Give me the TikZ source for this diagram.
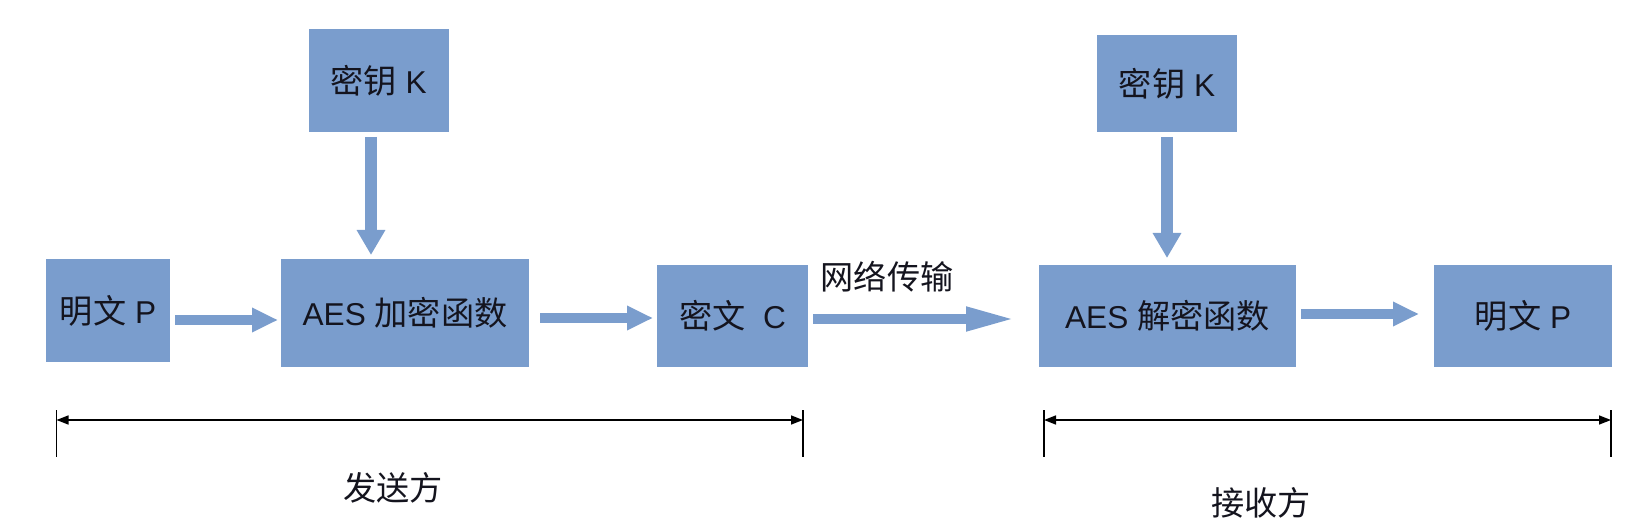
\documentclass[tikz,border=0pt]{standalone}
\usepackage{fontspec}
\setmainfont{Liberation Sans}
\newfontfamily\cjk[Scale=1.05]{Noto Sans CJK SC}
\usetikzlibrary{arrows.meta}
\definecolor{boxblue}{RGB}{122,157,205}
\definecolor{txt}{RGB}{20,20,30}
\begin{document}
\begin{tikzpicture}[x=0.5pt,y=-0.5pt,
  every node/.style={font=\fontsize{15.8}{18}\selectfont, text=txt},
  bbox/.style={fill=boxblue, inner sep=0pt, outer sep=0pt},
  barrow/.style={draw=boxblue, line width=5pt, -{Triangle[length=13pt,width=11.5pt]}},
  karrow/.style={draw=boxblue, line width=6pt, -{Triangle[length=12.5pt,width=13.5pt]}},
  netarrow/.style={draw=boxblue, line width=5pt, -{Triangle[length=25pt,width=11pt]}},
  dimline/.style={draw=black, line width=0.75pt, {Triangle[length=6pt,width=4.5pt]}-{Triangle[length=6pt,width=4.5pt]}},
  tick/.style={draw=black, line width=0.6pt},
  lbl/.style={inner sep=0pt}]
\useasboundingbox (0,0) rectangle (1640,524);

% boxes
\node[bbox, minimum width=70pt, minimum height=51.5pt] (k1) at (378.5,80.5) {{\cjk 密钥} K};
\node[bbox, minimum width=62pt, minimum height=51.5pt] (mp1) at (108,310.5) {{\cjk 明文} P};
\node[bbox, minimum width=124pt, minimum height=54pt] (enc) at (405,313) {AES {\cjk 加密函数}};
\node[bbox, minimum width=75.5pt, minimum height=51pt] (c) at (732.5,316) {{\cjk 密文}\ \ C};
\node[bbox, minimum width=70pt, minimum height=48.5pt] (k2) at (1167,83.5) {{\cjk 密钥} K};
\node[bbox, minimum width=128.5pt, minimum height=51pt] (dec) at (1167.5,316) {AES {\cjk 解密函数}};
\node[bbox, minimum width=89pt, minimum height=51pt] (mp2) at (1523,316) {{\cjk 明文} P};

% helper coordinates
\coordinate (ka) at (371,0);
\coordinate (kb) at (1167,0);
\coordinate (r1) at (0,320);
\coordinate (r2) at (0,318);
\coordinate (r3) at (0,319);
\coordinate (r4) at (0,314);

% block arrows
\draw[karrow, shorten <=2.5pt, shorten >=2pt] (k1.south -| ka) -- (enc.north -| ka);
\draw[karrow, shorten <=2.5pt, shorten >=3.5pt] (k2.south -| kb) -- (dec.north -| kb);
\draw[barrow, shorten <=2.5pt, shorten >=1.5pt] (mp1.east |- r1) -- (enc.west |- r1);
\draw[barrow, shorten <=5.5pt, shorten >=2pt] (enc.east |- r2) -- (c.west |- r2);
\draw[netarrow, shorten <=2.5pt, shorten >=11.5pt] (c.east |- r3) -- (dec.west |- r3);
\draw[barrow, shorten <=2.5pt, shorten >=7.5pt] (dec.east |- r4) -- (mp2.west |- r4);

\node[lbl] (net) at (887,277) {\cjk 网络传输};

% dimension lines
\coordinate (s1a) at (56.5,410);
\coordinate (s1b) at (56.5,457);
\coordinate (s2a) at (803,410);
\coordinate (s2b) at (803,457);
\coordinate (s3a) at (1044,410);
\coordinate (s3b) at (1044,457);
\coordinate (s4a) at (1611,410);
\coordinate (s4b) at (1611,457);
\coordinate (L1) at (56.5,420);
\coordinate (R1) at (803,420);
\coordinate (L2) at (1044,420);
\coordinate (R2) at (1611,420);
\draw[tick] (s1a) -- (s1b);
\draw[tick] (s2a) -- (s2b);
\draw[tick] (s3a) -- (s3b);
\draw[tick] (s4a) -- (s4b);
\draw[dimline] (L1) -- (R1);
\draw[dimline] (L2) -- (R2);

\node[lbl] (send) at (393,488) {\cjk 发送方};
\node[lbl] (recv) at (1261,503) {\cjk 接收方};
\end{tikzpicture}
\end{document}
